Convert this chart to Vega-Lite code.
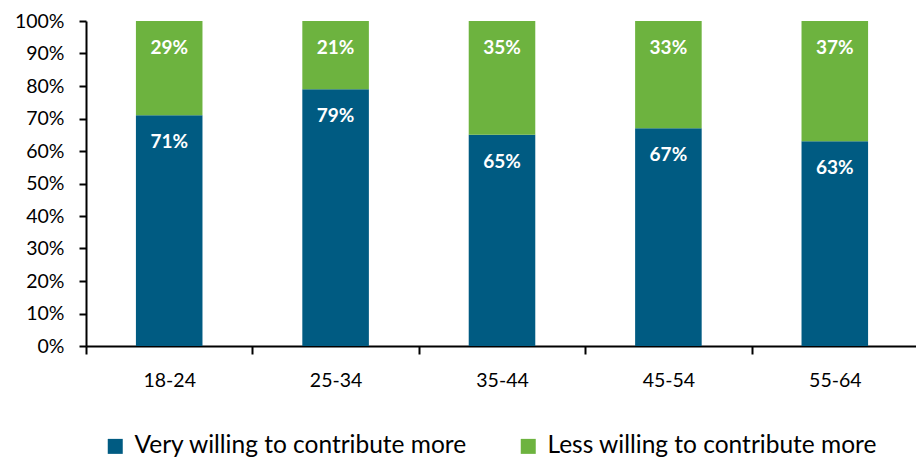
{
  "$schema": "https://vega.github.io/schema/vega-lite/v6.json",
  "width": 832,
  "height": 325,
  "autosize": {"type": "none"},
  "padding": {"left": 86, "top": 21, "right": 0, "bottom": 112},
  "background": "white",
  "config": {"view": {"stroke": null}, "font": "Lato"},
  "data": {"values": [
    {"age": "18-24", "group": "Very willing to contribute more", "ord": 1, "value": 0.71},
    {"age": "18-24", "group": "Less willing to contribute more", "ord": 2, "value": 0.29},
    {"age": "25-34", "group": "Very willing to contribute more", "ord": 1, "value": 0.79},
    {"age": "25-34", "group": "Less willing to contribute more", "ord": 2, "value": 0.21},
    {"age": "35-44", "group": "Very willing to contribute more", "ord": 1, "value": 0.65},
    {"age": "35-44", "group": "Less willing to contribute more", "ord": 2, "value": 0.35},
    {"age": "45-54", "group": "Very willing to contribute more", "ord": 1, "value": 0.67},
    {"age": "45-54", "group": "Less willing to contribute more", "ord": 2, "value": 0.33},
    {"age": "55-64", "group": "Very willing to contribute more", "ord": 1, "value": 0.63},
    {"age": "55-64", "group": "Less willing to contribute more", "ord": 2, "value": 0.37}
  ]},
  "transform": [
    {"stack": "value", "groupby": ["age"], "sort": [{"field": "ord", "order": "ascending"}], "as": ["y0", "y1"]}
  ],
  "encoding": {
    "x": {
      "field": "age", "type": "nominal", "sort": null,
      "scale": {"paddingInner": 0, "paddingOuter": 0},
      "axis": {
        "title": null, "labelAngle": 0, "domainColor": "black", "domainWidth": 2,
        "tickColor": "black", "tickWidth": 2, "tickSize": 8, "tickBand": "extent",
        "labelColor": "black", "labelFontSize": 19.5, "labelPadding": 17, "labelFont": "Lato"
      }
    },
    "y": {
      "field": "y1", "type": "quantitative",
      "scale": {"domain": [0, 1], "nice": false},
      "axis": {
        "title": null, "format": ".0%", "values": [0, 0.1, 0.2, 0.3, 0.4, 0.5, 0.6, 0.7, 0.8, 0.9, 1],
        "labelOverlap": false, "grid": false, "domainColor": "black", "domainWidth": 2,
        "tickColor": "black", "tickWidth": 2, "tickSize": 7,
        "labelColor": "black", "labelFontSize": 19.5, "labelPadding": 15, "labelFont": "Lato"
      }
    }
  },
  "layer": [
    {
      "mark": {"type": "bar", "width": {"band": 0.4}},
      "encoding": {
        "y2": {"field": "y0"},
        "color": {
          "field": "group", "type": "nominal",
          "sort": ["Very willing to contribute more", "Less willing to contribute more"],
          "scale": {"domain": ["Very willing to contribute more", "Less willing to contribute more"], "range": ["#005B82", "#6DB33F"]},
          "legend": {
            "title": null, "orient": "none", "direction": "horizontal",
            "legendX": 17, "legendY": 413,
            "symbolType": "square", "symbolSize": 225, "symbolStrokeWidth": 0,
            "labelFontSize": 24.5, "labelColor": "black", "labelFont": "Lato",
            "columnPadding": 48, "labelLimit": 500, "labelOffset": 7
          }
        }
      }
    },
    {
      "mark": {"type": "text", "color": "white", "fontWeight": "bold", "fontSize": 19, "dy": 27, "baseline": "middle", "font": "Lato"},
      "encoding": {
        "text": {"field": "value", "type": "quantitative", "format": ".0%"}
      }
    }
  ]
}
